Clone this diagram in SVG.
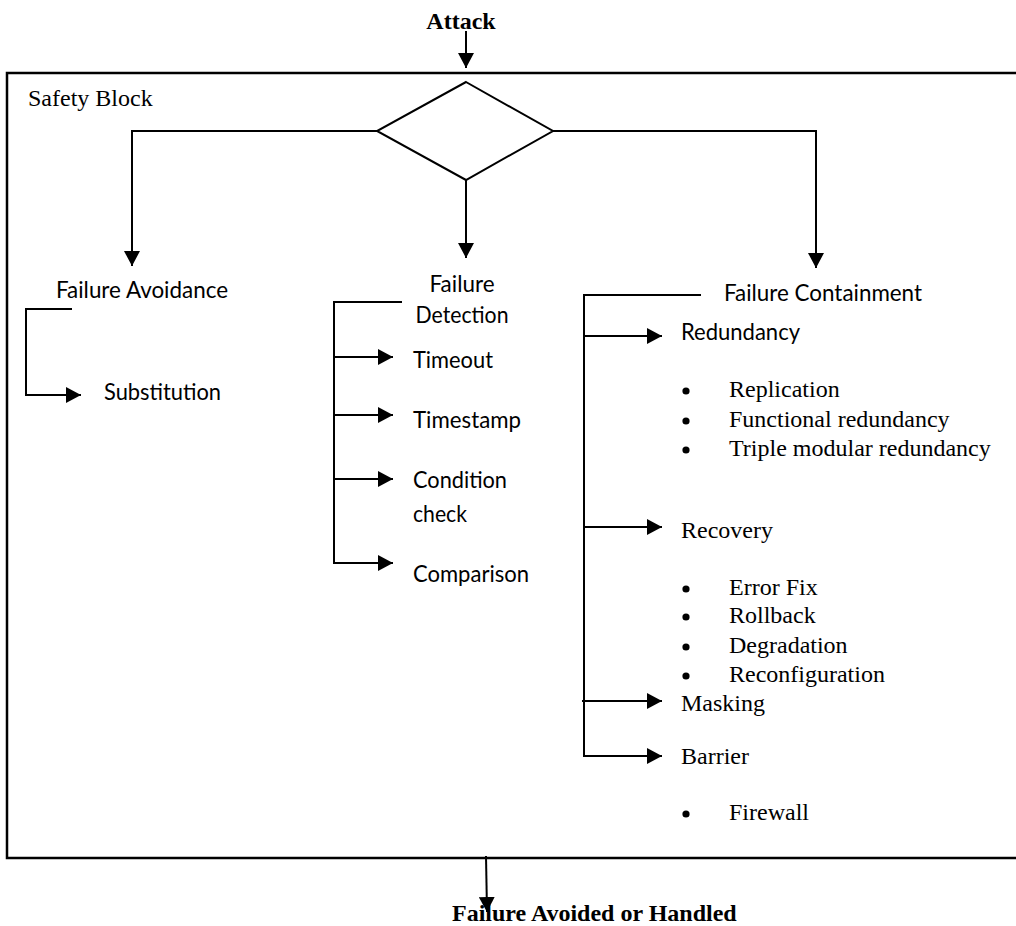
<svg xmlns="http://www.w3.org/2000/svg" width="1016" height="926" viewBox="0 0 1016 926">
  <style>
    .serif { font-family: "Liberation Serif", "Times New Roman", serif; font-size: 24px; fill: #000; }
    .bold { font-weight: bold; }
    .sans { font-family: Lato, "Liberation Sans", sans-serif; font-size: 23px; fill: #000; }
    .line { fill: none; stroke: #000; stroke-width: 2; }
    .frame { fill: none; stroke: #000; stroke-width: 2.5; }
  </style>
  <defs>
    <marker id="head" viewBox="0 0 15 16" refX="15" refY="8" markerWidth="15" markerHeight="16" markerUnits="userSpaceOnUse" orient="auto">
      <path d="M0,0 L15,8 L0,16 Z" fill="#000"/>
    </marker>
  </defs>
  <rect width="1016" height="926" fill="#fff"/>

  <!-- input / output labels -->
  <g id="attack">
    <text class="serif bold" x="461" y="29" text-anchor="middle">Attack</text>
  </g>
  <g id="result">
    <text class="serif bold" x="452" y="921">Failure Avoided or Handled</text>
  </g>

  <!-- enclosing block (open on the right) -->
  <g id="safety-block">
    <path class="frame" d="M1030,73 H7 V858 H1030"/>
    <text class="serif" x="28" y="106">Safety Block</text>
  </g>

  <g id="decision">
    <polygon class="line" points="466,82 553,131 466,180 377,131"/>
  </g>

  <g id="failure-avoidance">
    <text class="sans" x="56" y="298" textLength="172" lengthAdjust="spacingAndGlyphs">Failure Avoidance</text>
    <text class="sans" x="104" y="400" textLength="117" lengthAdjust="spacingAndGlyphs">Substitution</text>
  </g>

  <g id="failure-detection">
    <text class="sans" x="462" y="292" text-anchor="middle" textLength="65" lengthAdjust="spacingAndGlyphs">Failure</text>
    <text class="sans" x="462" y="323" text-anchor="middle" textLength="93" lengthAdjust="spacingAndGlyphs">Detection</text>
    <text class="sans" x="413" y="368" textLength="80" lengthAdjust="spacingAndGlyphs">Timeout</text>
    <text class="sans" x="413" y="428" textLength="108" lengthAdjust="spacingAndGlyphs">Timestamp</text>
    <text class="sans" x="413" y="488" textLength="94" lengthAdjust="spacingAndGlyphs">Condition</text>
    <text class="sans" x="413" y="522" textLength="54" lengthAdjust="spacingAndGlyphs">check</text>
    <text class="sans" x="413" y="582" textLength="116" lengthAdjust="spacingAndGlyphs">Comparison</text>
  </g>

  <g id="failure-containment">
    <text class="sans" x="724" y="301" textLength="198" lengthAdjust="spacingAndGlyphs">Failure Containment</text>
    <text class="sans" x="681" y="340" textLength="119" lengthAdjust="spacingAndGlyphs">Redundancy</text>
    <g id="redundancy-items">
      <circle cx="686" cy="391" r="3.6"/>
      <text class="serif" x="729" y="397">Replication</text>
      <circle cx="686" cy="421" r="3.6"/>
      <text class="serif" x="729" y="427">Functional redundancy</text>
      <circle cx="686" cy="450" r="3.6"/>
      <text class="serif" x="729" y="456">Triple modular redundancy</text>
    </g>
    <text class="serif" x="681" y="538">Recovery</text>
    <g id="recovery-items">
      <circle cx="686" cy="589" r="3.6"/>
      <text class="serif" x="729" y="595">Error Fix</text>
      <circle cx="686" cy="617" r="3.6"/>
      <text class="serif" x="729" y="623">Rollback</text>
      <circle cx="686" cy="647" r="3.6"/>
      <text class="serif" x="729" y="653">Degradation</text>
      <circle cx="686" cy="676" r="3.6"/>
      <text class="serif" x="729" y="682">Reconfiguration</text>
    </g>
    <text class="serif" x="681" y="711">Masking</text>
    <text class="serif" x="681" y="764">Barrier</text>
    <g id="barrier-items">
      <circle cx="686" cy="814" r="3.6"/>
      <text class="serif" x="729" y="820">Firewall</text>
    </g>
  </g>

  <!-- connectors -->
  <g id="connectors">
    <path class="line" d="M466,31 V68" marker-end="url(#head)"/>
    <path class="line" d="M377,131 H132 V266" marker-end="url(#head)"/>
    <path class="line" d="M466,180 V258" marker-end="url(#head)"/>
    <path class="line" d="M553,131 H816 V268" marker-end="url(#head)"/>

    <path class="line" d="M72,309 H26 V395 H81" marker-end="url(#head)"/>

    <path class="line" d="M402,302 H334 V563 H393" marker-end="url(#head)"/>
    <path class="line" d="M334,357 H393" marker-end="url(#head)"/>
    <path class="line" d="M334,415 H393" marker-end="url(#head)"/>
    <path class="line" d="M334,479 H393" marker-end="url(#head)"/>

    <path class="line" d="M701,295 H584 V756 H662" marker-end="url(#head)"/>
    <path class="line" d="M584,336 H662" marker-end="url(#head)"/>
    <path class="line" d="M584,527 H662" marker-end="url(#head)"/>
    <path class="line" d="M582,701 H662" marker-end="url(#head)"/>

    <path class="line" d="M486,856 L487,912" marker-end="url(#head)"/>
  </g>
</svg>
